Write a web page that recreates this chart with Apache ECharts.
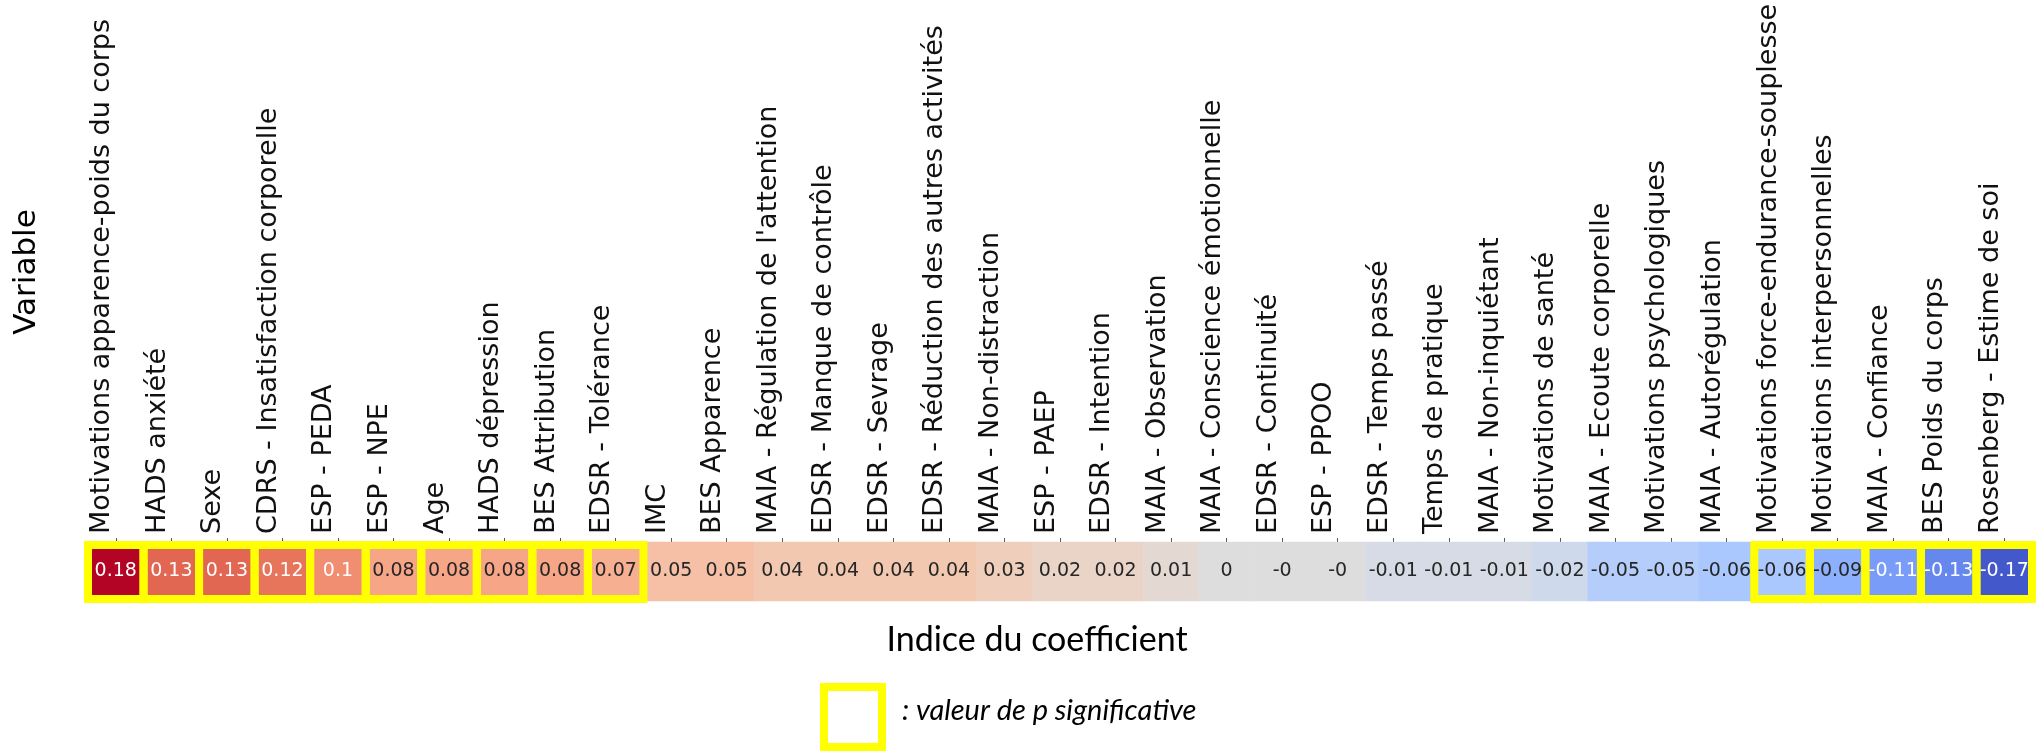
<!DOCTYPE html>
<html>
<head>
<meta charset="utf-8">
<script src="https://cdn.jsdelivr.net/npm/echarts@6/dist/echarts.min.js"></script>
<style>
html,body{margin:0;padding:0;background:#fff;}
#chart{width:2042px;height:752px;}
</style>
</head>
<body>
<div id="chart"></div>
<script>
const categories = [
  "Motivations apparence-poids du corps",
  "HADS anxiété",
  "Sexe",
  "CDRS - Insatisfaction corporelle",
  "ESP - PEDA",
  "ESP - NPE",
  "Age",
  "HADS dépression",
  "BES Attribution",
  "EDSR - Tolérance",
  "IMC",
  "BES Apparence",
  "MAIA - Régulation de l'attention",
  "EDSR - Manque de contrôle",
  "EDSR - Sevrage",
  "EDSR - Réduction des autres activités",
  "MAIA - Non-distraction",
  "ESP - PAEP",
  "EDSR - Intention",
  "MAIA - Observation",
  "MAIA - Conscience émotionnelle",
  "EDSR - Continuité",
  "ESP - PPOO",
  "EDSR - Temps passé",
  "Temps de pratique",
  "MAIA - Non-inquiétant",
  "Motivations de santé",
  "MAIA - Ecoute corporelle",
  "Motivations psychologiques",
  "MAIA - Autorégulation",
  "Motivations force-endurance-souplesse",
  "Motivations interpersonnelles",
  "MAIA - Confiance",
  "BES Poids du corps",
  "Rosenberg - Estime de soi"
];

const coefficients = [
  0.18, 0.13, 0.13, 0.12, 0.1, 0.08, 0.08, 0.08, 0.08, 0.07,
  0.05, 0.05, 0.04, 0.04, 0.04, 0.04, 0.03, 0.02, 0.02, 0.01,
  0, -0, -0, -0.01, -0.01, -0.01, -0.02, -0.05, -0.05, -0.06,
  -0.06, -0.09, -0.11, -0.13, -0.17
];

// 1 = significant p-value (yellow frame)
const significant = [
  1, 1, 1, 1, 1, 1, 1, 1, 1, 1,
  0, 0, 0, 0, 0, 0, 0, 0, 0, 0,
  0, 0, 0, 0, 0, 0, 0, 0, 0, 0,
  1, 1, 1, 1, 1
];

const rowName = ["Coefficient"];

// matplotlib "coolwarm" colormap stops
const coolwarm = [
  '#3b4cc0','#445acc','#4d68d7','#5775e1','#6282ea','#6c8ef1','#779af7','#82a5fb',
  '#8db0fe','#98b9ff','#a3c2ff','#aec9fd','#b8d0f9','#c2d5f4','#ccd9ee','#d5dbe6',
  '#dddddd','#e5d8d1','#ecd3c5','#f1ccb8','#f5c4ac','#f7bba0','#f7b194','#f7a689',
  '#f49a7b','#f18d70','#ec7f63','#e57058','#de604d','#d55042','#cb3e38','#c0282f','#b40426'
];

function fmt(v) { return Object.is(v, -0) ? '-0' : String(v); }

const heatData = coefficients.map((v, i) => ({
  value: [i, 0, v],
  label: { color: Math.abs(v) >= 0.1 ? '#ffffff' : '#262626' }
}));

const sigData = significant
  .map((s, i) => s ? [i, 0] : null)
  .filter(d => d !== null);

const chart = echarts.init(document.getElementById('chart'), null, { renderer: 'canvas' });

chart.setOption({
  backgroundColor: '#ffffff',
  animation: false,
  grid: { left: 88, right: 10, top: 542, height: 59, containLabel: false },
  xAxis: {
    type: 'category',
    position: 'top',
    data: categories,
    axisLine: { show: false },
    axisTick: { show: true, alignWithLabel: true, length: 4, lineStyle: { color: '#555555', width: 1 } },
    axisLabel: {
      rotate: -90,
      interval: 0,
      margin: 8,
      fontSize: 27,
      lineHeight: 27,
      verticalAlign: 'bottom',
      fontFamily: 'DejaVu Sans',
      color: '#111111'
    },
    splitLine: { show: false }
  },
  yAxis: {
    type: 'category',
    data: rowName,
    show: false
  },
  visualMap: {
    show: false,
    min: -0.18,
    max: 0.18,
    dimension: 2,
    seriesIndex: 0,
    inRange: { color: coolwarm }
  },
  series: [
    {
      type: 'heatmap',
      data: heatData,
      label: {
        show: true,
        fontSize: 19,
        fontFamily: 'DejaVu Sans',
        formatter: p => fmt(coefficients[p.dataIndex])
      },
      itemStyle: { borderWidth: 0 },
      emphasis: { disabled: true }
    },
    {
      type: 'custom',
      clip: false,
      data: sigData,
      z: 10,
      renderItem: function (params, api) {
        const c = api.coord([api.value(0), api.value(1)]);
        const s = api.size([1, 1]);
        return {
          type: 'rect',
          shape: { x: c[0] - s[0] / 2, y: c[1] - s[1] / 2 + 3, width: s[0], height: s[1] - 5 },
          style: { fill: 'none', stroke: '#ffff00', lineWidth: 8 }
        };
      }
    }
  ],
  graphic: [
    {
      type: 'text',
      x: 27, y: 272,
      rotation: Math.PI / 2,
      style: {
        text: 'Variable',
        fontSize: 31,
        fontFamily: 'DejaVu Sans',
        fill: '#000000',
        textAlign: 'center',
        textVerticalAlign: 'middle'
      }
    },
    {
      type: 'text',
      x: 1037, y: 640,
      style: {
        text: 'Indice du coefficient',
        fontSize: 34,
        fontFamily: 'Lato',
        fill: '#000000',
        textAlign: 'center',
        textVerticalAlign: 'middle'
      }
    },
    {
      type: 'rect',
      shape: { x: 824, y: 687, width: 58, height: 60 },
      style: { fill: 'none', stroke: '#ffff00', lineWidth: 8 }
    },
    {
      type: 'text',
      x: 902, y: 711,
      style: {
        text: ': valeur de p significative',
        fontSize: 29,
        fontStyle: 'italic',
        fontFamily: 'Lato',
        fill: '#000000',
        textAlign: 'left',
        textVerticalAlign: 'middle'
      }
    }
  ]
});
</script>
</body>
</html>
